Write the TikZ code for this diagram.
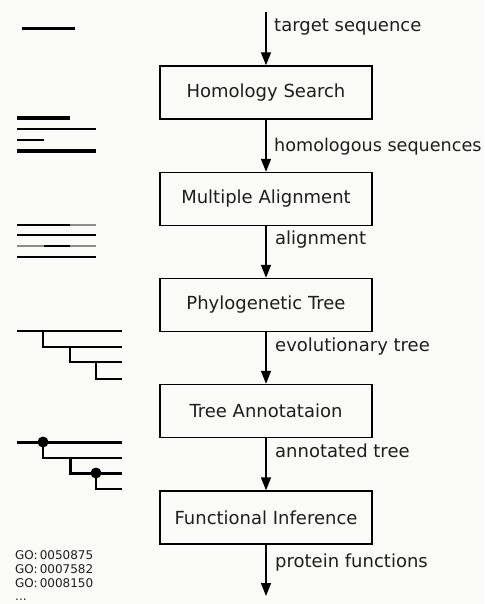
\documentclass[tikz,border=0pt]{standalone}
\usepackage{fontspec}
\setmainfont{DejaVu Sans}
\usetikzlibrary{arrows.meta}
\definecolor{bg}{RGB}{250,250,247}
\definecolor{txt}{RGB}{30,30,30}
\definecolor{grayseg}{RGB}{140,140,140}
\begin{document}
\begin{tikzpicture}[x=1pt,y=-1pt,
  stepbox/.style={draw=black,line width=1.4pt,fill=bg,minimum width=212pt,minimum height=53pt,inner sep=0pt,
    font=\fontsize{18}{21}\selectfont,text=txt},
  flowarrow/.style={draw=black,line width=1.4pt,-{Triangle[width=10pt,length=13pt]}},
  lbl/.style={anchor=west,inner sep=0pt,font=\fontsize{18}{21}\selectfont,text=txt},
  thickseg/.style={line width=3pt},
  thinseg/.style={line width=2pt},
  golbl/.style={anchor=west,inner sep=0pt,font=\fontsize{12}{14}\selectfont,text=txt}]
\fill[bg] (0,0) rectangle (484,604);
\useasboundingbox (0,0) rectangle (484,604);

% boxes
\node[stepbox] (b1) at (266,92.5) {Homology Search};
\node[stepbox] (b2) at (266,199) {Multiple Alignment};
\node[stepbox] (b3) at (266,305) {Phylogenetic Tree};
\node[stepbox] (b4) at (266,411) {Tree Annotataion};
\node[stepbox] (b5) at (266,517.5) {Functional Inference};
\coordinate (top) at (266,12);
\coordinate (bot) at (266,596);

\draw[flowarrow] (top) -- (b1.north);
\draw[flowarrow] (b1.south) -- (b2.north);
\draw[flowarrow] (b2.south) -- (b3.north);
\draw[flowarrow] (b3.south) -- (b4.north);
\draw[flowarrow] (b4.south) -- (b5.north);
\draw[flowarrow] (b5.south) -- (bot);

% labels
\node[lbl] (l1) at (274,27) {target sequence};
\node[lbl,font=\fontsize{17.6}{21}\selectfont] (l2) at (274,147) {homologous sequences};
\node[lbl] (l3) at (275,240) {alignment};
\node[lbl] (l4) at (275,347) {evolutionary tree};
\node[lbl] (l5) at (275,451) {annotated tree};
\node[lbl] (l6) at (275,563) {protein functions};

% icon: single sequence
\draw[thickseg] (22,29) -- (75,29);

% icon: homologous sequences
\draw[line width=3.2pt] (17,118) -- (70,118);
\draw[thinseg] (17,129) -- (96,129);
\draw[thinseg] (17,140) -- (44,140);
\draw[line width=3.2pt] (17,151) -- (96,151);

% icon: alignment
\draw[thinseg] (17,225) -- (70,225);
\draw[thinseg,grayseg] (70,225) -- (96,225);
\draw[thinseg] (17,235) -- (96,235);
\draw[thinseg,grayseg] (17,246) -- (44,246);
\draw[thinseg] (44,246) -- (70,246);
\draw[thinseg,grayseg] (70,246) -- (96,246);
\draw[thinseg] (17,257) -- (96,257);

% icon: tree
\draw[line width=2.5pt] (17,331) -- (122,331);
\draw[line width=2.5pt] (43,331) -- (43,347) -- (122,347);
\draw[line width=2.5pt] (70,347) -- (70,362) -- (122,362);
\draw[line width=2.5pt] (96,362) -- (96,379) -- (122,379);

% icon: annotated tree
\draw[line width=3pt] (17,442) -- (122,442);
\draw[line width=2pt] (43,442) -- (43,458) -- (122,458);
\draw[line width=3pt] (70,458) -- (70,473) -- (122,473);
\draw[line width=2pt] (96,473) -- (96,489) -- (122,489);
\fill (43,442) circle (5.5pt);
\fill (96,473) circle (5.5pt);

% GO terms
\node[golbl] (g1) at (15,555) {GO:\,0050875};
\node[golbl] (g2) at (15,569) {GO:\,0007582};
\node[golbl] (g3) at (15,583) {GO:\,0008150};
\node[golbl] (g4) at (15,600) {...};
\end{tikzpicture}
\end{document}
